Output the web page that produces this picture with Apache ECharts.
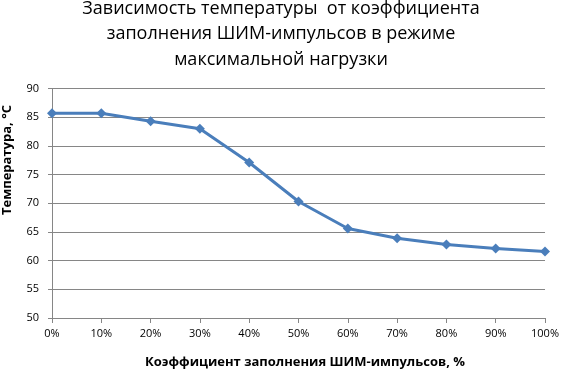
<!DOCTYPE html>
<html><head><meta charset="utf-8">
<script src="https://cdn.jsdelivr.net/npm/echarts@6/dist/echarts.min.js"></script>
<style>html,body{margin:0;padding:0;background:#fff}#c{width:562px;height:370px}</style>
</head><body><div id="c"></div>
<script>
const categories = ['0%','10%','20%','30%','40%','50%','60%','70%','80%','90%','100%'];
const temperature = [85.7, 85.7, 84.3, 83.0, 77.1, 70.3, 65.6, 63.9, 62.8, 62.1, 61.6];
const titleText = 'Зависимость температуры  от коэффициента\nзаполнения ШИМ-импульсов в режиме\nмаксимальной нагрузки';
const xName = 'Коэффициент заполнения ШИМ-импульсов, %';
const yName = 'Температура, °C';

const chart = echarts.init(document.getElementById('c'), null, {renderer:'canvas'});
chart.setOption({
  animation: false,
  backgroundColor: '#fff',
  title: {
    text: titleText, left: 281, top: -4, padding: 0, textAlign: 'center',
    textStyle: {fontFamily: 'Open Sans', fontWeight: 'normal', fontSize: 18, lineHeight: 25.5, color: '#000'}
  },
  grid: {left: 52, right: 15, top: 88.5, bottom: 52, containLabel: false},
  xAxis: {
    type: 'category', data: categories, boundaryGap: false,
    axisLine: {lineStyle: {color: '#868686', width: 1}},
    axisTick: {show: true, length: 5, lineStyle: {color: '#868686'}},
    axisLabel: {margin: 10, fontFamily: 'Open Sans', fontSize: 11, color: '#000'},
    splitLine: {show: false}
  },
  yAxis: {
    type: 'value', min: 50, max: 90, interval: 5,
    axisLine: {show: true, lineStyle: {color: '#868686', width: 1}},
    axisTick: {show: true, length: 4, lineStyle: {color: '#868686'}},
    axisLabel: {margin: 13, fontFamily: 'Open Sans', fontSize: 11, color: '#000'},
    splitLine: {show: true, lineStyle: {color: '#868686', width: 1}}
  },
  series: [{
    type: 'line', data: temperature,
    symbol: 'diamond', symbolSize: 10,
    lineStyle: {color: '#4A7EBB', width: 3},
    itemStyle: {color: '#4A7EBB'}
  }],
  graphic: [
    {type: 'text', x: 305, y: 362, style: {text: xName, font: 'bold 13px "Open Sans"', fill: '#000', align: 'center', verticalAlign: 'middle'}},
    {type: 'text', x: 7, y: 160, rotation: Math.PI/2, style: {text: yName, font: 'bold 13px "Open Sans"', fill: '#000', align: 'center', verticalAlign: 'middle'}}
  ]
});
</script></body></html>
